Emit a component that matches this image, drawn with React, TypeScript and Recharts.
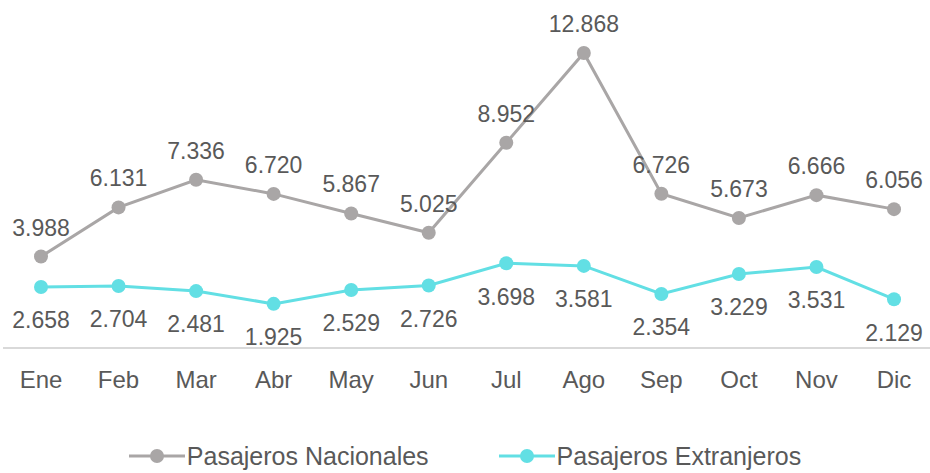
import { LineChart, Line, XAxis, YAxis, Legend, LabelList } from 'recharts';

const MONTHS = ['Ene', 'Feb', 'Mar', 'Abr', 'May', 'Jun', 'Jul', 'Ago', 'Sep', 'Oct', 'Nov', 'Dic'];
const NACIONALES = [3988, 6131, 7336, 6720, 5867, 5025, 8952, 12868, 6726, 5673, 6666, 6056];
const EXTRANJEROS = [2658, 2704, 2481, 1925, 2529, 2726, 3698, 3581, 2354, 3229, 3531, 2129];

const GRAY = '#A9A6A6';
const CYAN = '#62DFE4';
const TEXT = '#595959';
const FONT = '"Liberation Sans", Arial, sans-serif';

const data = MONTHS.map((m, i) => ({
  mes: m,
  nac: NACIONALES[i],
  ext: EXTRANJEROS[i],
}));

const fmt = (v: unknown) =>
  typeof v === 'number' ? v.toLocaleString('de-DE') : String(v ?? '');

function LegendContent() {
  const items = [
    { name: 'Pasajeros Nacionales', color: GRAY },
    { name: 'Pasajeros Extranjeros', color: CYAN },
  ];
  return (
    <div style={{ display: 'flex', justifyContent: 'center', gap: 70, fontFamily: FONT, fontSize: 25, color: TEXT, lineHeight: '28px' }}>
      {items.map((it) => (
        <div key={it.name} style={{ display: 'flex', alignItems: 'center' }}>
          <svg width={56} height={16}>
            <line x1={0} y1={8} x2={56} y2={8} stroke={it.color} strokeWidth={3} />
            <circle cx={28} cy={8} r={7} fill={it.color} />
          </svg>
          <span style={{ marginLeft: 2 }}>{it.name}</span>
        </div>
      ))}
    </div>
  );
}

export default function App() {
  return (
    <div style={{ position: 'absolute', left: 0, top: 0, background: '#fff' }}>
      <LineChart width={930} height={473} data={data} margin={{ top: 27, right: 0, bottom: 0, left: 3 }}>
        <XAxis
          dataKey="mes"
          tickLine={false}
          axisLine={{ stroke: '#D9D9D9', strokeWidth: 2 }}
          padding={{ left: 38, right: 36 }}
          tickMargin={17}
          tick={{ fill: TEXT, fontSize: 24, fontFamily: FONT }}
          height={52}
        />
        <YAxis hide domain={[0, 14000]} />
        <Legend
          verticalAlign="bottom"
          height={73}
          content={<LegendContent />}
          wrapperStyle={{ top: 442, left: 0, width: 930 }}
        />
        <Line
          dataKey="nac"
          name="Pasajeros Nacionales"
          stroke={GRAY}
          strokeWidth={3}
          dot={{ r: 7, fill: GRAY, stroke: GRAY, strokeWidth: 0 }}
          isAnimationActive={false}
        >
          <LabelList dataKey="nac" position="top" offset={21} formatter={fmt} fill={TEXT} fontSize={23} fontFamily={FONT} />
        </Line>
        <Line
          dataKey="ext"
          name="Pasajeros Extranjeros"
          stroke={CYAN}
          strokeWidth={3}
          dot={{ r: 7, fill: CYAN, stroke: CYAN, strokeWidth: 0 }}
          isAnimationActive={false}
        >
          <LabelList dataKey="ext" position="bottom" offset={25} formatter={fmt} fill={TEXT} fontSize={23} fontFamily={FONT} />
        </Line>
      </LineChart>
    </div>
  );
}
